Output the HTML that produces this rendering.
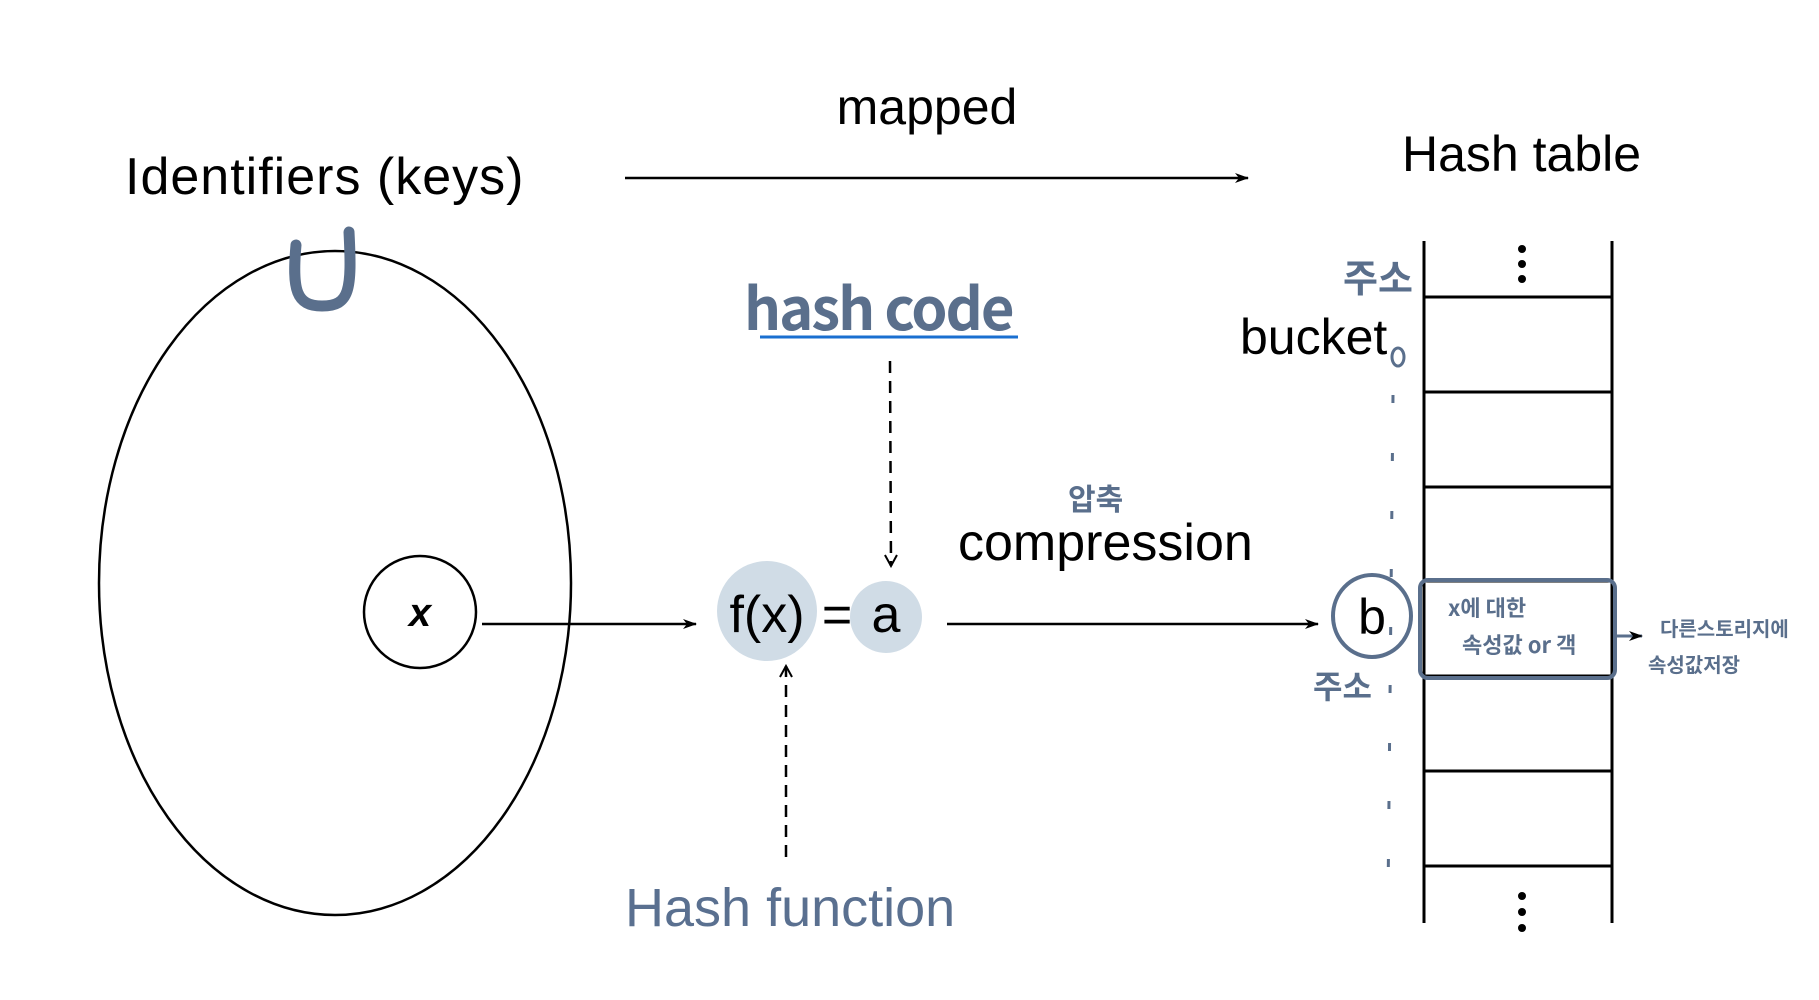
<!DOCTYPE html>
<html><head><meta charset="utf-8"><style>
html,body{margin:0;padding:0;background:#fff;}
svg{display:block;}
text{font-family:"Liberation Sans","Noto Sans CJK KR",sans-serif;}
.h{font-family:"Noto Sans CJK KR","Liberation Sans",sans-serif;fill:#5a6f8c;font-weight:bold;}
</style></head><body>
<svg width="1819" height="1000" viewBox="0 0 1819 1000" xmlns="http://www.w3.org/2000/svg">
<defs>
<marker id="ar" markerWidth="14" markerHeight="10" refX="13" refY="5" orient="auto" markerUnits="userSpaceOnUse">
<path d="M0,0 L14,5 L0,10 L4,5 Z" fill="#000"/></marker>
<marker id="op" markerWidth="14" markerHeight="14" refX="12" refY="7" orient="auto" markerUnits="userSpaceOnUse">
<path d="M1,1 L12,7 L1,13" fill="none" stroke="#000" stroke-width="2"/></marker>
</defs>
<text x="927" y="124" font-size="50" text-anchor="middle">mapped</text>
<line x1="625" y1="178" x2="1248" y2="178" stroke="#000" stroke-width="2.5" marker-end="url(#ar)"/>
<text x="125" y="194" font-size="52" letter-spacing="1">Identifiers (keys)</text>
<text x="1402" y="171" font-size="50">Hash table</text>
<ellipse cx="335" cy="583" rx="236" ry="332" fill="none" stroke="#000" stroke-width="2.5"/>
<path d="M296,245 C292,290 296,306 322,306 C350,306 352,290 349,232" fill="none" stroke="#5a6f8c" stroke-width="11" stroke-linecap="round"/>
<circle cx="420" cy="612" r="56" fill="none" stroke="#000" stroke-width="2.5"/>
<text x="420" y="626" font-size="40" font-style="italic" font-weight="bold" text-anchor="middle" font-family="Liberation Serif">x</text>
<line x1="482" y1="624" x2="696" y2="624" stroke="#000" stroke-width="2.5" marker-end="url(#ar)"/>
<ellipse cx="767" cy="611" rx="50" ry="50" fill="#d0dce6"/>
<circle cx="886" cy="617" r="36" fill="#d0dce6"/>
<text x="767" y="632" font-size="52" text-anchor="middle">f(x)</text>
<text x="837" y="632" font-size="52" text-anchor="middle">=</text>
<text x="886" y="632" font-size="52" text-anchor="middle">a</text>
<text x="744" y="330" font-size="58" class="h" letter-spacing="-2">hash code</text>
<line x1="760" y1="337" x2="1018" y2="337" stroke="#1a6fd0" stroke-width="3"/>
<line x1="890" y1="361" x2="891" y2="566" stroke="#000" stroke-width="2.5" stroke-dasharray="12,8" marker-end="url(#op)"/>
<line x1="786" y1="857" x2="786" y2="666" stroke="#000" stroke-width="2.5" stroke-dasharray="12,8" marker-end="url(#op)"/>
<text x="625" y="926" font-size="54" fill="#5a7090">Hash function</text>
<text x="958" y="560" font-size="52">compression</text>
<text x="1068" y="510" font-size="30" class="h">압축</text>
<line x1="947" y1="624" x2="1318" y2="624" stroke="#000" stroke-width="2.5" marker-end="url(#ar)"/>
<ellipse cx="1372" cy="616" rx="39" ry="41" fill="none" stroke="#5a6f8c" stroke-width="4"/>
<text x="1372" y="634" font-size="50" text-anchor="middle" font-family="Liberation Serif">b</text>
<text x="1313" y="698" font-size="32" class="h">주소</text>
<text x="1343" y="292" font-size="38" class="h">주소</text>
<text x="1240" y="354" font-size="50">bucket</text>
<ellipse cx="1398" cy="357" rx="6" ry="9" fill="none" stroke="#5a6f8c" stroke-width="3"/>
<line x1="1393" y1="395" x2="1388" y2="900" stroke="#5a6f8c" stroke-width="3" stroke-dasharray="8,50"/>
<g stroke="#000" stroke-width="3">
<line x1="1424" y1="241" x2="1424" y2="923"/>
<line x1="1612" y1="241" x2="1612" y2="923"/>
<line x1="1424" y1="297" x2="1612" y2="297"/>
<line x1="1424" y1="392" x2="1612" y2="392"/>
<line x1="1424" y1="487" x2="1612" y2="487"/>
<line x1="1424" y1="581" x2="1612" y2="581"/>
<line x1="1424" y1="676" x2="1612" y2="676"/>
<line x1="1424" y1="771" x2="1612" y2="771"/>
<line x1="1424" y1="866" x2="1612" y2="866"/>
</g>
<g fill="#000"><circle cx="1522" cy="249" r="4"/><circle cx="1522" cy="264" r="4"/><circle cx="1522" cy="279" r="4"/>
<circle cx="1522" cy="896" r="4"/><circle cx="1522" cy="912" r="4"/><circle cx="1522" cy="928" r="4"/></g>
<rect x="1420" y="580" width="195" height="98" rx="8" fill="none" stroke="#5a6f8c" stroke-width="4"/>
<text x="1448" y="616" font-size="22" class="h">x에 대한</text>
<text x="1462" y="653" font-size="22" class="h">속성값 or 객</text>
<line x1="1617" y1="636" x2="1642" y2="636" stroke="#5a6f8c" stroke-width="3" marker-end="url(#ar)"/>
<text x="1660" y="636" font-size="20" class="h">다른스토리지에</text>
<text x="1648" y="672" font-size="20" class="h">속성값저장</text>
</svg>
</body></html>
